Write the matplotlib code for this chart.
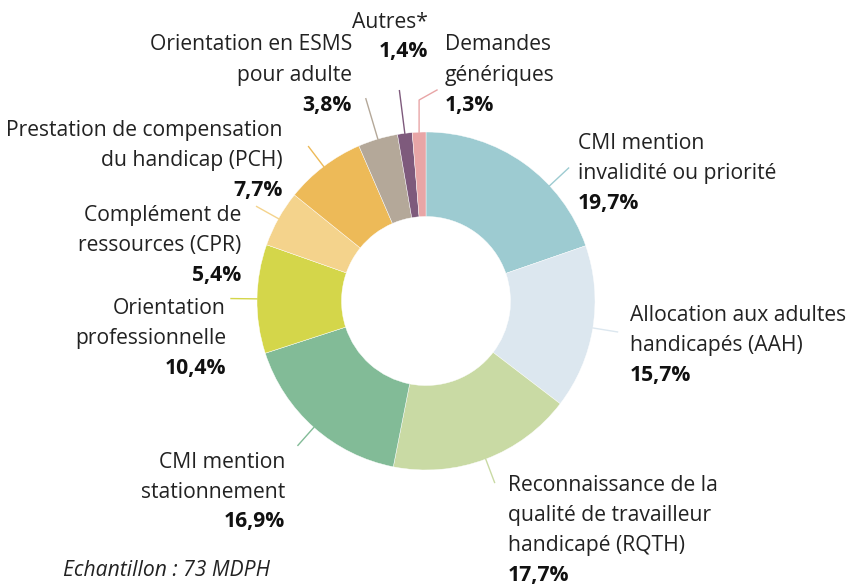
import numpy as np
import matplotlib
matplotlib.use("Agg")
import matplotlib.pyplot as plt

# data (percent of requests)
categories = [
    "CMI mention\ninvalidité ou priorité",
    "Allocation aux adultes\nhandicapés (AAH)",
    "Reconnaissance de la\nqualité de travailleur\nhandicapé (RQTH)",
    "CMI mention\nstationnement",
    "Orientation\nprofessionnelle",
    "Complément de\nressources (CPR)",
    "Prestation de compensation\ndu handicap (PCH)",
    "Orientation en ESMS\npour adulte",
    "Autres*",
    "Demandes\ngénériques",
]
values = [19.7, 15.7, 17.7, 16.9, 10.4, 5.4, 7.7, 3.8, 1.4, 1.3]
pct_labels = ["19,7%", "15,7%", "17,7%", "16,9%", "10,4%", "5,4%", "7,7%", "3,8%", "1,4%", "1,3%"]
colors = ["#9dcbd1", "#dce7ef", "#c9daa4", "#82bb97", "#d4d64a",
          "#f4d38c", "#edba58", "#b4a899", "#7e5a7c", "#e8a5a6"]

W, H = 849, 584
CX, CY, R = 426, 301, 169  # donut centre / radius in pixels


def px(x, y):
    return (x - CX) / R, (CY - y) / R


plt.rcParams["font.family"] = ["Open Sans", "DejaVu Sans"]
fig = plt.figure(figsize=(W / 100, H / 100), dpi=100)
ax = fig.add_axes([0, 0, 1, 1])

# pick a font size so the widest right label is as wide as in the reference
probe = fig.text(0, 0, "Allocation aux adultes", fontsize=10)
pw = probe.get_window_extent(fig.canvas.get_renderer()).width
probe.remove()
FS = 10 * 217 / pw

wedges, _ = ax.pie(values, colors=colors, startangle=90, counterclock=False,
                   radius=1.0, wedgeprops=dict(width=0.5, edgecolor="white", linewidth=0.3))

ax.set_xlim(px(0, 0)[0], px(W, 0)[0])
ax.set_ylim(px(0, H)[1], px(0, 0)[1])
ax.set_aspect("equal")
ax.axis("off")

# label layout: anchor x, alignment, y of first line (pixels)
layout = [
    (578, "left", 143),
    (630, "left", 315),
    (508, "left", 485),
    (285, "right", 462),
    (226, "right", 308),
    (241, "right", 215),
    (283, "right", 130),
    (352, "right", 45),
    (428, "right", 22),
    (445, "left", 45),
]
# leader lines: angle override (None = wedge mid angle), length in px
leader_angle = [43, None, None, None, None, None, None, None, None, None]
leader_len = [26, 25, 25, 24, 26, 25, 25, 42, 43, 0]

STEP = 30
for i, w in enumerate(wedges):
    x, ha, y0 = layout[i]
    lines = categories[i].split("\n")
    for k, line in enumerate(lines):
        ax.text(*px(x, y0 + k * STEP), line, ha=ha, va="center",
                fontsize=FS, color="#222222")
    ax.text(*px(x, y0 + len(lines) * STEP), pct_labels[i], ha=ha, va="center",
            fontsize=FS, fontweight="bold", color="#111111")

    ang = leader_angle[i]
    if ang is None:
        ang = (w.theta1 + w.theta2) / 2
    a = np.deg2rad(ang)
    x0, y0_ = np.cos(a), np.sin(a)
    if leader_len[i] > 0:
        r1 = 1 + leader_len[i] / R
        ax.plot([x0, r1 * np.cos(a)], [y0_, r1 * np.sin(a)], color=colors[i], lw=1)
    else:
        # kinked leader for the smallest slice
        top = px(0, 100)[1]
        end = px(437, 90)
        ax.plot([x0, x0, end[0]], [y0_, top, end[1]], color=colors[i], lw=1)

ax.text(*px(63, 571), "Echantillon : 73 MDPH", ha="left", va="center",
        fontsize=FS, fontstyle="italic", color="#222222")

fig.savefig("out.png", dpi=100)
